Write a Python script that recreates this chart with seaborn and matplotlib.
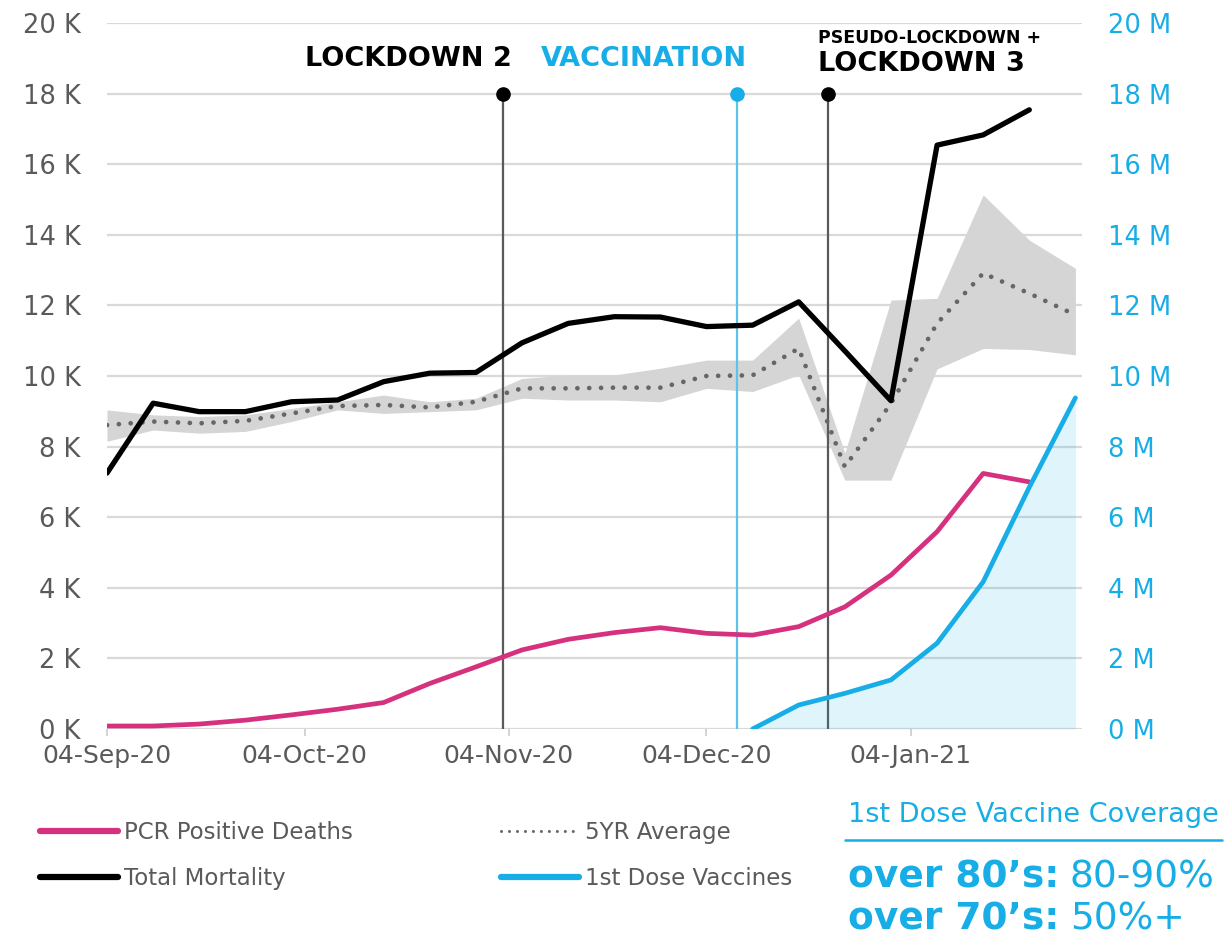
import matplotlib
matplotlib.use("Agg")
import matplotlib.pyplot as plt
from matplotlib.lines import Line2D
import seaborn as sns
import pandas as pd

# ---------------- data ----------------
weeks = pd.date_range("2020-09-04", periods=22, freq="7D")

total_mortality_k = [7.25, 9.23, 8.99, 8.99, 9.27, 9.32, 9.84, 10.08, 10.10, 10.94, 11.49,
                     11.68, 11.67, 11.40, 11.44, 12.10, 10.71, 9.30, 16.54, 16.83, 17.54]
pcr_deaths_k = [0.085, 0.085, 0.14, 0.25, 0.40, 0.56, 0.75, 1.29, 1.76, 2.24, 2.54,
                2.73, 2.87, 2.71, 2.66, 2.90, 3.46, 4.36, 5.59, 7.24, 7.00]
avg5_k = [8.61, 8.71, 8.66, 8.73, 8.94, 9.15, 9.18, 9.11, 9.27, 9.65, 9.65,
          9.67, 9.67, 10.00, 10.02, 10.78, 7.43, 9.22, 11.49, 12.91, 12.34, 11.73]
avg5_upper_k = [9.04, 8.90, 8.85, 8.90, 9.08, 9.27, 9.46, 9.27, 9.37, 9.93, 10.03,
                10.03, 10.22, 10.45, 10.45, 11.64, 7.82, 12.15, 12.20, 15.13, 13.85, 13.05]
avg5_lower_k = [8.15, 8.47, 8.38, 8.43, 8.71, 9.04, 8.94, 8.99, 9.04, 9.37, 9.32,
                9.32, 9.27, 9.65, 9.56, 10.03, 7.05, 7.05, 10.20, 10.78, 10.75, 10.60]
vaccines_m = [0.0, 0.68, 1.01, 1.39, 2.43, 4.17, 6.85, 9.38]   # from week 14 on

event_dates = ["2020-11-03 04:00", "2020-12-08 14:00", "2020-12-22 12:00"]
x_tick_dates = ["2020-09-04", "2020-10-04", "2020-11-04", "2020-12-04", "2021-01-04"]
x_tick_labels = ["04-Sep-20", "04-Oct-20", "04-Nov-20", "04-Dec-20", "04-Jan-21"]
y_ticks = [0, 2, 4, 6, 8, 10, 12, 14, 16, 18, 20]
left_labels = [f"{v} K" for v in y_ticks]
right_labels = [f"{v} M" for v in y_ticks]
legend_labels = ["PCR Positive Deaths", "Total Mortality", "5YR Average", "1st Dose Vaccines"]

# ---------------- style ----------------
PINK = "#d6317f"
BLUE = "#17ade6"
BLUE_LIGHT = "#5cc3ec"
GREY_TXT = "#5a5a5a"
BAND = "#d5d5d5"
DOT = "#666666"

sns.set_theme(style="white")
plt.rcParams["font.family"] = ["DejaVu Sans"]

W, H = 1228, 939
fig = plt.figure(figsize=(W / 100, H / 100), dpi=100)


def fx(x):
    return x / W


def fy(y):
    return 1 - y / H


ax = fig.add_axes([fx(107), fy(729), fx(1082) - fx(107), fy(23) - fy(729)])
ax2 = ax.twinx()

df_main = pd.DataFrame({"week": weeks[:21], "total": total_mortality_k, "pcr": pcr_deaths_k})
df_avg = pd.DataFrame({"week": weeks, "avg": avg5_k, "lo": avg5_lower_k, "hi": avg5_upper_k})
df_vac = pd.DataFrame({"week": weeks[14:], "vac": vaccines_m})

# band of 5 year range
ax.fill_between(df_avg["week"], df_avg["lo"], df_avg["hi"], color=BAND, lw=0, zorder=1)

# event lines
ev = pd.to_datetime(event_dates)
ev_colors = ["#5a5a5a", BLUE_LIGHT, "#5a5a5a"]
dot_colors = ["black", BLUE, "black"]
for d, c, dc in zip(ev, ev_colors, dot_colors):
    ax.plot([d, d], [0, 18], color=c, lw=1.6, zorder=2)
    ax.plot([d], [18], marker="o", ms=9.5, color=dc, zorder=6, clip_on=False)

sns.lineplot(data=df_avg, x="week", y="avg", ax=ax, color=DOT, lw=3.4,
             linestyle=(0, (0.01, 2.5)), dash_capstyle="round", zorder=3)
sns.lineplot(data=df_main, x="week", y="pcr", ax=ax, color=PINK, lw=3.4, zorder=4)
sns.lineplot(data=df_main, x="week", y="total", ax=ax, color="black", lw=3.8, zorder=5)

# vaccines on right axis
ax2.fill_between(df_vac["week"], 0, df_vac["vac"], color=BLUE, alpha=0.13, lw=0)
sns.lineplot(data=df_vac, x="week", y="vac", ax=ax2, color=BLUE, lw=3.4)

x0, x1 = pd.Timestamp("2020-09-04"), pd.Timestamp("2021-01-30")
for a in (ax, ax2):
    a.set_xlim(x0, x1)
    a.set_ylim(0, 20)
    a.set_yticks(y_ticks)
    a.set_xlabel("")
    a.set_ylabel("")
    for s in a.spines.values():
        s.set_visible(False)

ax.set_yticklabels(left_labels)
ax2.set_yticklabels(right_labels)
ax.yaxis.grid(True, color="#d9d9d9", lw=1.6)
ax.set_axisbelow(True)
ax.tick_params(axis="y", length=0, pad=19, labelsize=18.5, labelcolor=GREY_TXT)
ax2.tick_params(axis="y", length=0, pad=19, labelsize=18.5, labelcolor=BLUE)
ax.set_xticks(pd.to_datetime(x_tick_dates))
ax.set_xticklabels(x_tick_labels)
ax.tick_params(axis="x", length=5, width=1.2, color="#cccccc", pad=6,
               labelsize=18, labelcolor=GREY_TXT, bottom=True)

# annotations
fig.text(fx(512), fy(59), "LOCKDOWN 2", ha="right", va="center", fontsize=19.5,
         fontweight="bold", color="black")
fig.text(fx(747), fy(59), "VACCINATION", ha="right", va="center", fontsize=19.5,
         fontweight="bold", color=BLUE)
fig.text(fx(818), fy(38), "PSEUDO-LOCKDOWN +", ha="left", va="center", fontsize=12.5,
         fontweight="bold", color="black")
fig.text(fx(818), fy(64), "LOCKDOWN 3", ha="left", va="center", fontsize=19.5,
         fontweight="bold", color="black")

# legend
handles = [
    Line2D([], [], color=PINK, lw=4.5, solid_capstyle="round"),
    Line2D([], [], color="black", lw=4.5, solid_capstyle="round"),
    Line2D([], [], color=DOT, lw=2.2, linestyle=(0, (0.01, 2.6)), dash_capstyle="round"),
    Line2D([], [], color=BLUE, lw=4.5, solid_capstyle="round"),
]
leg = fig.legend(handles, legend_labels, loc="upper left", bbox_to_anchor=(fx(40), fy(821)),
                 ncol=2, frameon=False, fontsize=16.5, handlelength=3.4, handletextpad=0.25,
                 columnspacing=6.5, labelspacing=1.0, borderpad=0, borderaxespad=0)
for t in leg.get_texts():
    t.set_color(GREY_TXT)

# coverage box
fig.text(fx(848), fy(815), "1st Dose Vaccine Coverage", ha="left", va="center",
         fontsize=19.5, color=BLUE)
fig.add_artist(Line2D([fx(845), fx(1222)], [fy(840), fy(840)], color=BLUE, lw=1.8))
fig.text(fx(848), fy(877), "over 80’s:", ha="left", va="center", fontsize=27,
         fontweight="bold", color=BLUE)
fig.text(fx(1070), fy(877), "80-90%", ha="left", va="center", fontsize=27, color=BLUE)
fig.text(fx(848), fy(920), "over 70’s:", ha="left", va="center", fontsize=27,
         fontweight="bold", color=BLUE)
fig.text(fx(1070), fy(920), "50%+", ha="left", va="center", fontsize=27, color=BLUE)

fig.savefig("out.png", dpi=100)
